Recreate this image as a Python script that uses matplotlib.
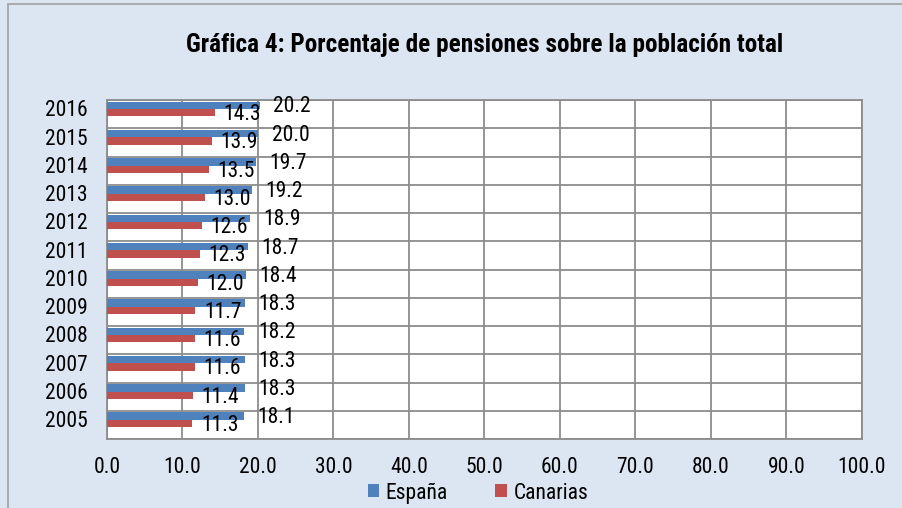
import matplotlib
matplotlib.use("Agg")
import matplotlib.pyplot as plt
import numpy as np
from matplotlib import font_manager
from matplotlib.patches import Patch

years = ["2005", "2006", "2007", "2008", "2009", "2010", "2011", "2012", "2013", "2014", "2015", "2016"]
espana = [18.1, 18.3, 18.3, 18.2, 18.3, 18.4, 18.7, 18.9, 19.2, 19.7, 20.0, 20.2]
canarias = [11.3, 11.4, 11.6, 11.6, 11.7, 12.0, 12.3, 12.6, 13.0, 13.5, 13.9, 14.3]
xticks = [0, 10, 20, 30, 40, 50, 60, 70, 80, 90, 100]
title = "Gráfica 4: Porcentaje de pensiones sobre la población total"

avail = {f.name for f in font_manager.fontManager.ttflist}
fam = ["Roboto Condensed", "Archivo Narrow", "Liberation Sans"]
fam = [f for f in fam if f in avail] + ["DejaVu Sans"]
plt.rcParams["font.family"] = fam

BG = "#dce6f2"
BLUE = "#4f81bd"
RED = "#c0504d"
GRID = "#8c8c8c"
FS = 15.5

fig = plt.figure(figsize=(9.03, 5.08), dpi=100, facecolor=BG)
fig.patches.append(plt.Rectangle((8 / 903, -0.01), 1.2, 1.0 - 4 / 508 + 0.01, transform=fig.transFigure,
                                 fill=False, edgecolor="#a0a0a0", linewidth=1.2))

ax = fig.add_axes([107 / 903, 1 - 439 / 508, (862 - 107) / 903, (439 - 100) / 508])
ax.set_facecolor("white")

n = len(years)
y = np.arange(n)
h = 0.26
ax.barh(y + 0.31, espana, height=h, color=BLUE, zorder=3)
ax.barh(y + 0.05, canarias, height=h, color=RED, zorder=3)

for i in range(n):
    ax.text(espana[i] + 1.8, y[i] + 0.26, f"{espana[i]:.1f}", ha="left", va="center",
            fontsize=FS, color="black", zorder=4)
    ax.text(canarias[i] + 6.1, y[i] - 0.02, f"{canarias[i]:.1f}", ha="right", va="center",
            fontsize=FS, color="black", zorder=4)

ax.set_xlim(0, 100)
ax.set_ylim(-0.5, n - 0.5)
ax.set_xticks(xticks)
ax.set_xticklabels([f"{v:.1f}" for v in xticks], fontsize=FS)
ax.set_yticks(y + 0.2)
ax.set_yticklabels(years, fontsize=FS)
ax.tick_params(axis="both", length=0)
ax.tick_params(axis="x", pad=13)
ax.tick_params(axis="y", pad=14)

for v in xticks:
    ax.axvline(v, color=GRID, linewidth=1.3, zorder=1)
for b in np.arange(-0.5, n, 1.0):
    ax.axhline(b, color=GRID, linewidth=1.3, zorder=1)
for s in ax.spines.values():
    s.set_color(GRID)
    s.set_linewidth(1.3)

fig.text(485 / 903, 1 - 45 / 508, title, ha="center", va="center", fontsize=18.2, fontweight="bold")

handles = [Patch(facecolor=BLUE, label="España"), Patch(facecolor=RED, label="Canarias")]
fig.legend(handles=handles, loc="center", bbox_to_anchor=(478 / 903, 1 - 493 / 508), ncol=2,
           frameon=False, fontsize=FS, handlelength=0.55, handleheight=0.55, handletextpad=0.3,
           columnspacing=2.2)

fig.savefig("out.png", dpi=100, facecolor=BG)
